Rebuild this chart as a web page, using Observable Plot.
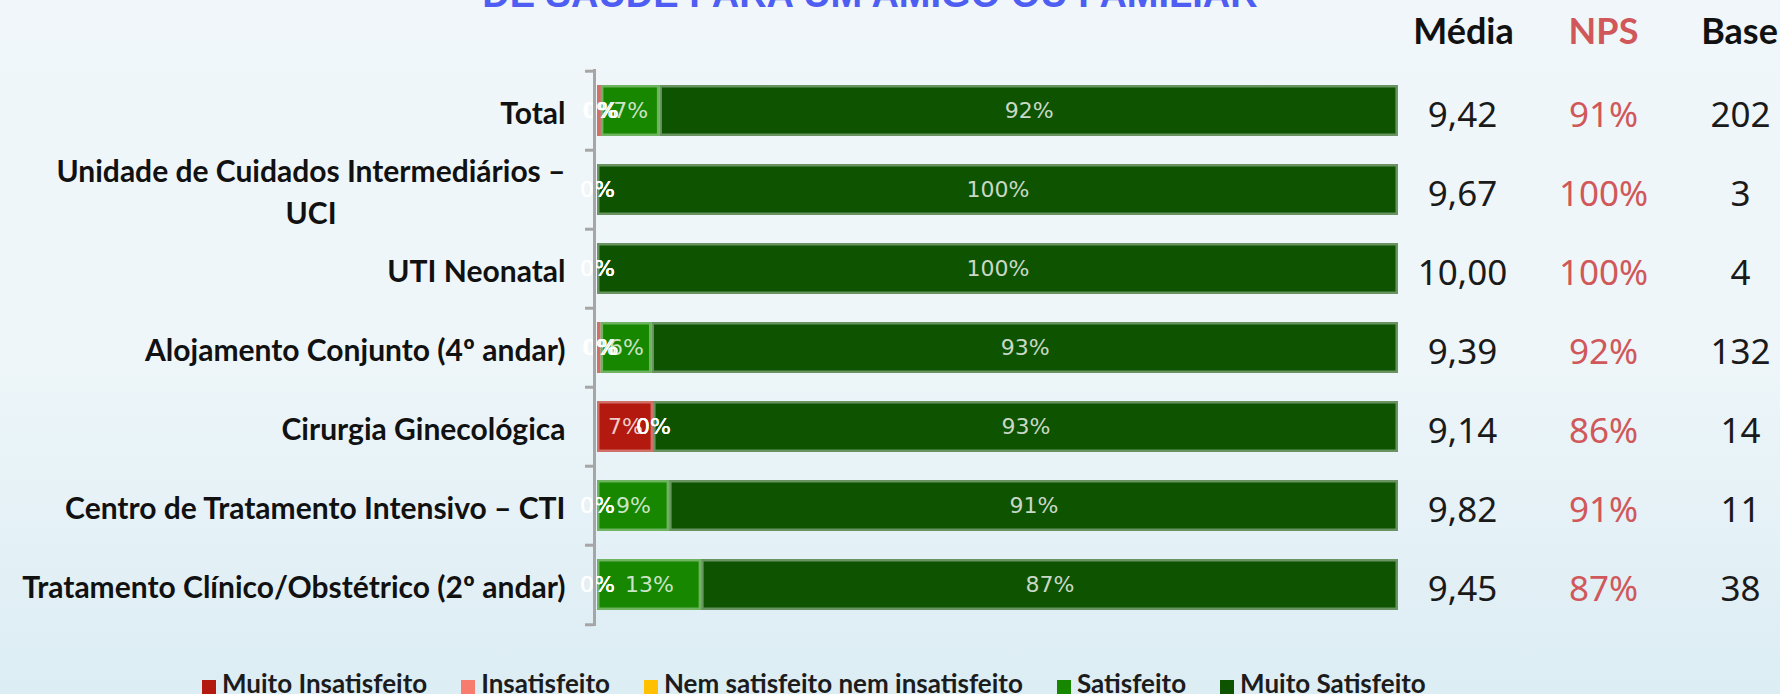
<!DOCTYPE html>
<html>
<head>
<meta charset="utf-8">
<script src="https://cdn.jsdelivr.net/npm/d3@7"></script>
<script src="https://cdn.jsdelivr.net/npm/@observablehq/plot@0.6"></script>
<style>
  html, body { margin: 0; padding: 0; }
  body {
    width: 1780px; height: 694px; overflow: hidden; position: relative;
    background: linear-gradient(180deg, #f0f6f9 0%, #eef6f9 50%, #dcedf4 100%);
  }
  #title {
    position: absolute; left: 0; top: -25px; width: 1740px; text-align: center;
    font: bold 38px "Liberation Sans", sans-serif; line-height: 38px;
    color: #4f5ef2; white-space: nowrap;
  }
  #legend {
    display: flex; align-items: flex-start; gap: 34px; height: 23px;
    padding-left: 202px; font: bold 26px Lato, sans-serif; line-height: 24px;
    color: #1c1c1c; white-space: nowrap;
  }
  #legend .item { display: flex; align-items: flex-start; }
  #legend .sw { width: 14px; height: 14px; margin-top: 9px; margin-right: 6px; }
  #chart svg { display: block; }
</style>
</head>
<body>
<div id="title"></div>
<div id="chart"></div>
<div id="legend"></div>
<script>
const titleText = "DE SAÚDE PARA UM AMIGO OU FAMILIAR";

const categories = [
  "Total",
  "Unidade de Cuidados Intermediários – UCI",
  "UTI Neonatal",
  "Alojamento Conjunto (4º andar)",
  "Cirurgia Ginecológica",
  "Centro de Tratamento Intensivo – CTI",
  "Tratamento Clínico/Obstétrico (2º andar)"
];
// tick labels as they wrap in the original
const categoryLabels = [
  "Total",
  "Unidade de Cuidados Intermediários –\nUCI",
  "UTI Neonatal",
  "Alojamento Conjunto (4º andar)",
  "Cirurgia Ginecológica",
  "Centro de Tratamento Intensivo – CTI",
  "Tratamento Clínico/Obstétrico (2º andar)"
];

const seriesNames = ["Muito Insatisfeito", "Insatisfeito", "Nem satisfeito nem insatisfeito", "Satisfeito", "Muito Satisfeito"];
const seriesColors = ["#b3190e", "#f77c6e", "#ffc000", "#178700", "#0e5300"];

const muitoInsatisfeito = [0.49, 0, 0, 0.45, 7, 0, 0];
const insatisfeito      = [0, 0, 0, 0, 0, 0, 0];
const nemSatisfeito     = [0, 0, 0, 0, 0, 0, 0];
const satisfeito        = [7.3, 0, 0, 6.35, 0, 9, 13];
const muitoSatisfeito   = [92.2, 100, 100, 93.2, 93, 91, 87];

const columnHeaders = ["Média", "NPS", "Base"];
const media = [9.42, 9.67, 10.00, 9.39, 9.14, 9.82, 9.45];
const nps   = [91, 100, 100, 92, 86, 91, 87];
const base  = [202, 3, 4, 132, 14, 11, 38];

const seriesValues = [muitoInsatisfeito, insatisfeito, nemSatisfeito, satisfeito, muitoSatisfeito];
const rows = categories.flatMap((c, i) =>
  seriesNames.map((s, j) => ({cat: c, series: s, value: seriesValues[j][i]}))
);

document.getElementById("title").textContent = titleText;

// layout
const W = 1780, H = 671, mTop = 69, mBottom = 45, mLeft = 597, mRight = 382;
const step = (H - mTop - mBottom) / categories.length;
const fmtMedia = v => v.toFixed(2).replace(".", ",");
const lineColor = "#a6a6a6";
const headerStyle = {frameAnchor: "top-right", textAnchor: "middle", lineAnchor: "middle", dy: -37.5,
  fontFamily: "Lato", fontWeight: "bold", fontSize: 36};
const valueStyle = {frameAnchor: "right", textAnchor: "middle", lineAnchor: "middle", dy: 5,
  fontFamily: "Noto Sans", fontSize: 35};

const chart = Plot.plot({
  width: W, height: H,
  marginTop: mTop, marginBottom: mBottom, marginLeft: mLeft, marginRight: mRight,
  style: {background: "transparent", overflow: "visible"},
  x: {domain: [0, 100], axis: null},
  y: {domain: categories, axis: null, paddingInner: 0.36, paddingOuter: 0.18},
  color: {domain: seriesNames, range: seriesColors},
  opacity: {domain: [0, 1], range: [0, 1]},
  marks: [
    Plot.barX(rows, Plot.stackX({x: "value", y: "cat", z: "series", fill: "series", order: seriesNames})),
    Plot.barX(rows, Plot.stackX({x: "value", y: "cat", z: "series", order: seriesNames,
      fill: "none", stroke: "white", strokeOpacity: 0.38, strokeWidth: 2.5, inset: 1.25})),
    Plot.text(rows, Plot.stackX({x: "value", y: "cat", z: "series", order: seriesNames,
      text: d => Math.round(d.value) + "%",
      fill: "white", fillOpacity: d => (Math.round(d.value) === 0 ? 1 : 0.78),
      fontFamily: "DejaVu Sans", fontSize: 22})),
    // axis line and band ticks
    Plot.ruleX([0], {dx: -3, stroke: lineColor, strokeWidth: 3}),
    Plot.ruleY(categories, {y: d => d, x1: -1, x2: 0, dx: -4, dy: -step / 2, stroke: lineColor, strokeWidth: 3}),
    Plot.ruleY(categories.slice(-1), {y: d => d, x1: -1, x2: 0, dx: -4, dy: step / 2, stroke: lineColor, strokeWidth: 3}),
    // category labels
    Plot.text(categories, {y: d => d, text: (d, i) => categoryLabels[i], frameAnchor: "left", dx: -32,
      textAnchor: "end", lineAnchor: "middle", lineHeight: 1.4, fontFamily: "Lato", fontWeight: "bold",
      fontSize: 30, fill: "#111", className: "catlabels"}),
    // column headers
    Plot.text([columnHeaders[0]], {...headerStyle, text: d => d, dx: 65, fill: "#111"}),
    Plot.text([columnHeaders[1]], {...headerStyle, text: d => d, dx: 205, fill: "#d0585a"}),
    Plot.text([columnHeaders[2]], {...headerStyle, text: d => d, dx: 341, fill: "#111"}),
    // column values
    Plot.text(categories, {...valueStyle, y: d => d, text: (d, i) => fmtMedia(media[i]), dx: 64, fill: "#1a1a1a"}),
    Plot.text(categories, {...valueStyle, y: d => d, text: (d, i) => nps[i] + "%", dx: 205, fill: "#d0585a"}),
    Plot.text(categories, {...valueStyle, y: d => d, text: (d, i) => String(base[i]), dx: 342, fill: "#1a1a1a"})
  ]
});
document.getElementById("chart").append(chart);

// center wrapped category labels within their own block (right-aligned block)
chart.querySelectorAll("g.catlabels text").forEach(t => {
  const spans = t.querySelectorAll("tspan");
  if (spans.length > 1) {
    const w = t.getBBox().width;
    t.setAttribute("text-anchor", "middle");
    spans.forEach(s => s.setAttribute("x", -w / 2));
  }
});

// legend
const legend = document.getElementById("legend");
seriesNames.forEach((s, i) => {
  const item = document.createElement("div");
  item.className = "item";
  const sw = document.createElement("div");
  sw.className = "sw";
  sw.style.background = seriesColors[i];
  const label = document.createElement("span");
  label.textContent = s;
  item.append(sw, label);
  legend.append(item);
});
</script>
</body>
</html>
